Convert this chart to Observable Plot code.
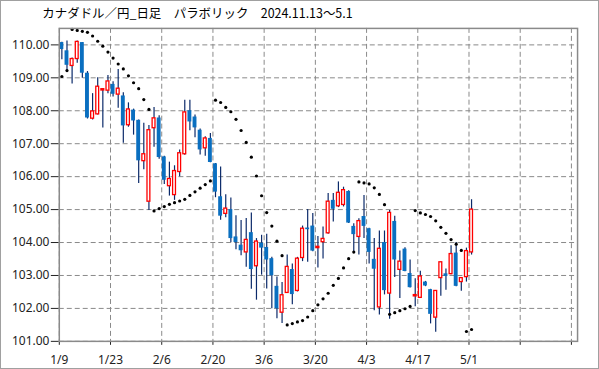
<!DOCTYPE html>
<html><head><meta charset="utf-8">
<script src="https://cdn.jsdelivr.net/npm/d3@7"></script>
<script src="https://cdn.jsdelivr.net/npm/@observablehq/plot@0.6"></script>
<style>
html,body{margin:0;padding:0;background:#fff;}
#chart{position:relative;width:599px;height:369px;box-sizing:border-box;border:1px solid #a0a0a0;overflow:hidden;background:#fff;}
#chart svg{position:absolute;left:-1px;top:-1px;}
</style></head><body><div id="chart"></div>
<script>
const title = "カナダドル／円_日足　パラボリック　2024.11.13～5.1";
const xTickPos = [0,10,20,30,40,50,60,70,80,90,100];
const xTickLabels = ["1/9","1/23","2/6","2/20","3/6","3/20","4/3","4/17","5/1","",""];
const yTicks = [101,102,103,104,105,106,107,108,109,110];

const opens = [110.07,109.82,109.36,109.57,110.07,109.14,107.76,107.89,108.62,108.61,
  108.80,108.49,108.45,107.56,108.02,107.71,106.47,105.24,107.47,107.78,
  106.60,105.71,105.44,106.14,106.68,108.00,107.81,107.41,106.86,107.16,
  106.39,105.39,104.87,105.00,104.17,103.92,103.70,104.30,103.28,103.98,
  103.85,103.51,102.67,101.87,102.47,103.18,102.53,103.53,104.44,104.50,
  103.84,104.01,104.28,105.28,105.10,105.14,105.55,104.49,104.17,104.79,
  104.42,103.49,102.03,104.00,102.45,104.64,103.17,103.80,103.06,102.37,
  102.32,102.80,102.57,101.72,102.92,103.05,103.04,103.68,102.80,102.95,103.70];
const highs = [110.08,110.12,109.60,110.12,110.07,109.19,108.52,109.00,108.66,109.07,
  108.88,109.25,108.55,108.24,108.05,107.72,107.62,107.55,108.10,107.85,
  106.62,106.44,106.33,106.81,108.32,108.32,107.87,107.45,107.21,107.31,
  106.40,106.29,105.45,105.35,104.81,104.67,104.73,104.90,104.12,104.22,
  104.25,103.55,102.95,102.79,103.62,103.35,103.55,104.50,105.00,104.88,
  104.18,104.47,105.49,105.49,105.84,105.68,105.57,104.57,104.72,105.43,
  104.43,104.12,104.35,104.35,104.97,104.80,103.74,103.84,103.47,102.90,
  103.13,102.82,102.58,102.53,103.40,103.20,103.90,104.00,102.92,103.83,105.30];
const lows = [109.55,109.17,108.81,109.44,108.99,107.75,107.72,107.87,107.48,108.52,
  108.42,108.08,107.01,107.50,107.26,105.79,106.21,104.97,106.89,106.53,
  105.76,105.41,105.28,106.00,106.65,107.39,107.18,106.66,106.62,106.42,
  105.36,104.68,104.75,104.00,103.78,103.60,103.25,102.58,102.25,103.01,
  102.59,101.99,101.69,101.54,102.45,102.11,102.50,103.42,103.40,103.72,
  103.23,103.50,104.25,104.62,105.06,105.08,104.58,103.69,103.62,104.12,
  103.35,101.93,101.80,102.41,101.67,102.94,102.30,103.11,102.62,102.05,
  102.31,102.66,101.53,101.28,102.37,102.55,103.02,102.66,102.52,102.80,103.62];
const closes = [109.86,109.38,109.57,110.09,109.14,107.78,107.98,108.73,108.65,108.89,
  108.50,108.67,107.54,108.04,107.69,106.48,106.68,107.41,107.77,106.58,
  105.89,105.93,106.17,106.71,107.95,107.66,107.48,106.81,107.16,106.43,
  105.53,104.80,105.03,104.12,104.00,103.75,104.08,103.18,104.03,103.83,
  103.47,102.99,101.99,102.40,103.26,102.42,103.51,104.42,104.39,103.74,
  103.86,104.11,105.24,105.01,105.51,105.59,104.59,104.24,104.65,104.49,
  103.70,103.19,103.81,102.54,104.90,103.47,103.42,103.12,102.63,102.40,
  102.97,102.68,101.82,102.53,103.40,102.97,103.65,102.67,102.92,103.74,105.00];
const sar = [109.04,109.22,110.47,110.44,110.41,110.38,110.27,110.11,109.96,109.78,
  109.60,109.42,109.27,109.06,108.85,108.67,108.34,108.04,104.96,105.03,
  105.09,105.16,105.21,105.26,105.31,105.43,105.54,105.65,105.76,105.87,
  108.32,108.25,108.10,107.97,107.74,107.40,107.04,106.59,106.02,105.42,
  104.91,104.50,104.04,103.60,101.50,101.54,101.59,101.63,101.74,101.93,
  102.11,102.29,102.46,102.70,102.91,103.23,103.51,103.71,105.84,105.81,
  105.78,105.66,105.46,105.15,101.82,101.87,101.93,101.99,102.06,104.97,
  104.90,104.85,104.79,104.66,104.46,104.28,104.09,103.95,103.76,101.30,101.36];

const bars = opens.map((o, i) => {
  const c = closes[i];
  const up = c >= o;
  const lo = Math.min(o, c), hi = Math.max(o, c);
  const pad = hi - lo < 0.04 ? (0.04 - (hi - lo)) / 2 : 0;
  return {x: i + 0.5, open: o, close: c, high: highs[i], low: lows[i], up, b1: lo - pad, b2: hi + pad};
});
const sarData = sar.map((v, i) => ({x: i + 0.5, y: v}));
const hw = 0.38;

const chart = Plot.plot({
  width: 599, height: 369,
  marginLeft: 59, marginRight: 20, marginTop: 28, marginBottom: 27,
  x: {domain: [0, 101.2], ticks: xTickPos, tickFormat: d => xTickLabels[xTickPos.indexOf(d)], tickSize: 4, tickPadding: 10, label: null},
  y: {domain: [101, 110.5], ticks: yTicks, tickFormat: d => d.toFixed(2), tickSize: 8, tickPadding: 2, label: null},
  style: {fontFamily: "'Noto Sans', sans-serif", fontSize: "12px", color: "#222", background: "transparent"},
  marks: [
    Plot.ruleX(xTickPos, {x: d => d, stroke: "#8a8a8a", strokeDasharray: "5,3"}),
    Plot.ruleY(yTicks, {y: d => d, stroke: "#8a8a8a", strokeDasharray: "5,3"}),
    Plot.ruleX(bars, {x: "x", y1: "low", y2: "high", stroke: "#0b2a6a", strokeWidth: 1.2}),
    Plot.rect(bars.filter(d => !d.up), {x1: d => d.x - hw, x2: d => d.x + hw, y1: "b1", y2: "b2", fill: "#0a6fc0"}),
    Plot.rect(bars.filter(d => d.up), {x1: d => d.x - hw + 0.1, x2: d => d.x + hw - 0.1, y1: "b1", y2: "b2", fill: "#ffffff", stroke: "#ff0000", strokeWidth: 1.3}),
    Plot.dot(sarData, {x: "x", y: "y", r: 1.6, fill: "#000"}),
    Plot.frame({stroke: "#8a8a8a", strokeWidth: 1.5}),
    Plot.text([title], {frameAnchor: "top-left", dx: -17, dy: -14, textAnchor: "start", lineAnchor: "middle", fontSize: 12.5, fontFamily: "'Noto Sans CJK JP', sans-serif", fill: "#000"})
  ]
});
document.getElementById("chart").appendChild(chart);
</script>
</body></html>
